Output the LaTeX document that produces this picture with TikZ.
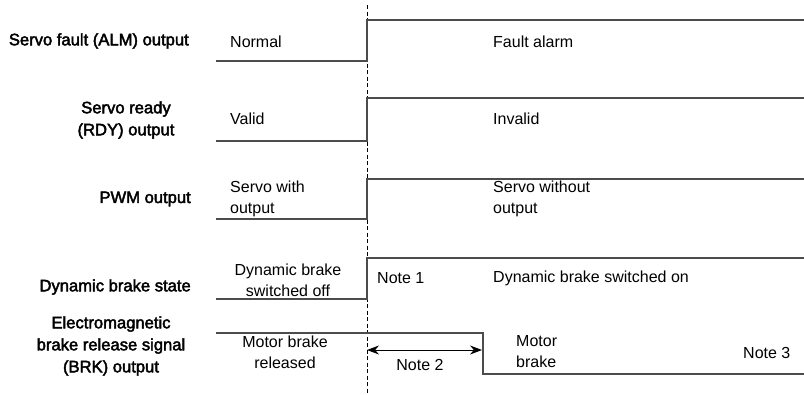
\documentclass[tikz,border=0pt]{standalone}
\usepackage{fontspec}
\setmainfont{Liberation Sans}
\newfontfamily\heavyfont[FakeBold=2.5]{Liberation Sans}
\usetikzlibrary{arrows.meta,positioning}
\tikzset{
  wave/.style={draw=black!70, line width=1.1pt},
  sig/.style={font=\heavyfont\fontsize{16.6}{22}\selectfont, align=center, inner sep=0pt},
  txt/.style={font=\fontsize{16}{21}\selectfont, align=left, inner sep=0pt, anchor=west},
  ctxt/.style={font=\fontsize{16}{21}\selectfont, align=center, inner sep=0pt},
}
\begin{document}
\begin{tikzpicture}[x=1pt,y=-1pt]
\useasboundingbox (0,0) rectangle (804,394);
% moment of the fault
\coordinate (t0top) at (367,5);
\coordinate (t0bot) at (367,394);
\draw[black, line width=0.9pt, dash pattern=on 4pt off 2.5pt] (t0top) -- (t0bot);
% signal levels: row / low / high
\foreach \n/\lo/\hi in {alm/61/20, rdy/141/98, pwm/219/179, db/299/258} {
  \coordinate (\n-a) at (216,\lo);
  \coordinate (\n-b) at (367,\lo);
  \coordinate (\n-c) at (367,\hi);
  \coordinate (\n-d) at (804,\hi);
  \draw[wave] (\n-a) -- (\n-b) -- (\n-c) -- (\n-d);
}
% brake output drops later
\coordinate (brk-a) at (216,333);
\coordinate (brk-b) at (483,333);
\coordinate (brk-c) at (483,374);
\coordinate (brk-d) at (804,374);
\draw[wave] (brk-a) -- (brk-b) -- (brk-c) -- (brk-d);
% delay arrow
\coordinate (n2a) at (367,350);
\coordinate (n2b) at (482,350);
\draw[black, line width=0.9pt, {Stealth[length=12pt,width=9pt]}-{Stealth[length=12pt,width=9pt]}] (n2a) -- (n2b);
% signal names
\node[sig, anchor=east] (lalm) at (189,41) {Servo fault (ALM) output};
\node[sig] (lrdy) at (126,120) {Servo ready\\(RDY) output};
\node[sig, anchor=east] (lpwm) at (191,199) {PWM output};
\node[sig, anchor=east] (ldb) at (191,287) {Dynamic brake state};
\node[sig] (lbrk) at (111,346) {Electromagnetic\\brake release signal\\(BRK) output};
% states
\node[txt] (normal) at (230,42) {Normal};
\node[txt] (fault) at (493,42) {Fault alarm};
\node[txt] (valid) at (230,119) {Valid};
\node[txt] (invalid) at (493,119) {Invalid};
\node[txt] (pwmon) at (230,199) {Servo with\\output};
\node[txt] (pwmoff) at (493,199) {Servo without\\output};
\node[ctxt] (dboff) at (288,280) {Dynamic brake\\switched off};
\node[txt] (note1) at (377,278) {Note 1};
\node[txt] (dbon) at (493,278) {Dynamic brake switched on};
\node[ctxt] (rel) at (285,352) {Motor brake\\released};
\node[ctxt] (note2) at (420,365) {Note 2};
\node[txt] (mbrk) at (516,352) {Motor\\brake};
\node[txt] (note3) at (743,353) {Note 3};
\end{tikzpicture}
\end{document}
